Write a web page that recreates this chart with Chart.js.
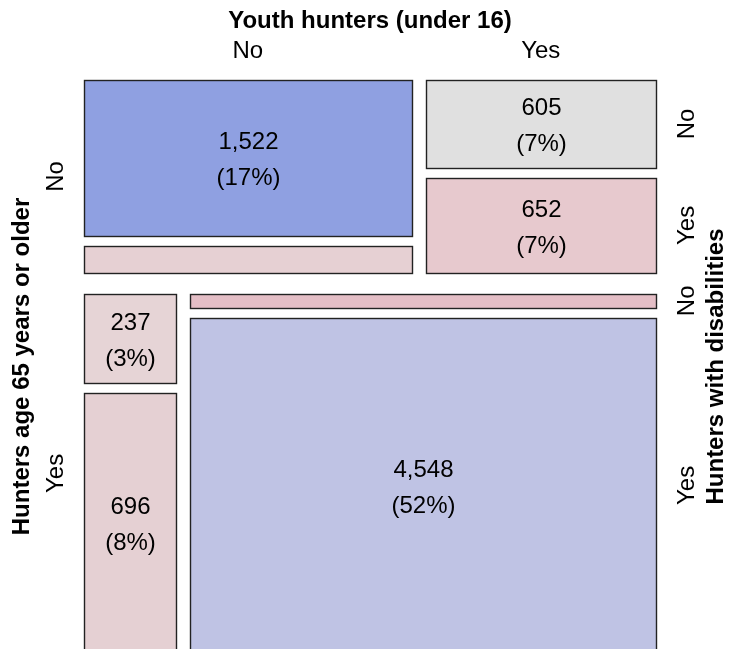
<!DOCTYPE html>
<html>
<head>
<meta charset="utf-8">
<script src="https://cdn.jsdelivr.net/npm/chart.js@4"></script>
<style>
  body { margin: 0; background: #fff; }
  #wrap { width: 729px; height: 649px; position: relative; }
</style>
</head>
<body>
<div id="wrap"><canvas id="mosaic"></canvas></div>
<script>
// levels of the three variables
const youthLevels = ['No', 'Yes'];
const ageLevels = ['No', 'Yes'];
const disLevels = ['No', 'Yes'];

// counts per youth column, [disabilities No, disabilities Yes]
const ageNoCounts = [[1522, 265], [605, 652]];
const ageYesCounts = [[237, 696], [190, 4548]];

// shading per cell (same order as counts)
const ageNoColors = [['#8fa0e1', '#e6d0d3'], ['#e0e0e0', '#e7c9ce']];
const ageYesColors = [['#e6d4d6', '#e5d0d3'], ['#e4bec6', '#bfc3e4']];

const counts = [ageNoCounts, ageYesCounts];
const colors = [ageNoColors, ageYesColors];
const total = counts.flat(2).reduce((a, b) => a + b, 0);

// gaps between tiles, as a share of the mosaic
const gapYouth = 14 / 572;
const gapAge = 21 / 573;
const gapDis = 10 / 573;

function buildTiles() {
    let tiles = [];
    let rowTotals = counts.map(r => r.flat().reduce((a, b) => a + b, 0));
    let y = 0;
    for (let a = 0; a < counts.length; a++) {
        let rowH = rowTotals[a] / total * (1 - gapAge);
        let x = 0;
        for (let yo = 0; yo < counts[a].length; yo++) {
            let colTotal = counts[a][yo][0] + counts[a][yo][1];
            let colW = colTotal / rowTotals[a] * (1 - gapYouth);
            let yy = y;
            for (let d = 0; d < counts[a][yo].length; d++) {
                let h = counts[a][yo][d] / colTotal * (rowH - gapDis);
                tiles.push({ age: a, youth: yo, dis: d, n: counts[a][yo][d], color: colors[a][yo][d],
                    x0: x, x1: x + colW, y0: yy, y1: yy + h });
                yy += h + gapDis;
            }
            x += colW + gapYouth;
        }
        y += rowH + gapAge;
    }
    return tiles;
}
const tiles = buildTiles();

const FONT = '"Liberation Sans", Arial, sans-serif';

function rotText(ctx, txt, x, y) {
    ctx.save();
    ctx.translate(x, y);
    ctx.rotate(-Math.PI / 2);
    ctx.fillText(txt, 0, 0);
    ctx.restore();
}

const mosaicPlugin = {
    id: 'mosaic',
    afterDatasetsDraw(chart) {
        const ctx = chart.ctx;
        const xs = chart.scales.x, ys = chart.scales.y;
        ctx.save();
        tiles.forEach(t => {
            let px0 = Math.round(xs.getPixelForValue(t.x0)) + 0.5;
            let px1 = Math.round(xs.getPixelForValue(t.x1)) + 0.5;
            let py0 = Math.round(ys.getPixelForValue(t.y0)) + 0.5;
            let py1 = Math.round(ys.getPixelForValue(t.y1)) + 0.5;
            ctx.fillStyle = t.color;
            ctx.fillRect(px0, py0, px1 - px0, py1 - py0);
            ctx.strokeStyle = '#222';
            ctx.lineWidth = 1.4;
            ctx.strokeRect(px0, py0, px1 - px0, py1 - py0);
            if (py1 - py0 > 60) {
                let cx = (px0 + px1) / 2, cy = (py0 + py1) / 2;
                ctx.fillStyle = '#000';
                ctx.font = '24px ' + FONT;
                ctx.textAlign = 'center';
                ctx.textBaseline = 'middle';
                ctx.fillText(t.n.toLocaleString('en-US'), cx, cy - 16);
                ctx.fillText('(' + Math.round(t.n / total * 100) + '%)', cx, cy + 20);
            }
        });

        // axis labels
        ctx.fillStyle = '#000';
        ctx.textAlign = 'center';
        ctx.textBaseline = 'middle';
        let topTiles = tiles.filter(t => t.age === 0 && t.dis === 0);
        let top0 = ys.getPixelForValue(0);
        let bottom = ys.getPixelForValue(1);
        ctx.font = 'bold 24px ' + FONT;
        ctx.fillText('Youth hunters (under 16)', (xs.left + xs.right) / 2, 21);
        rotText(ctx, 'Hunters age 65 years or older', 22, (top0 + bottom) / 2);
        rotText(ctx, 'Hunters with disabilities', 716, (top0 + bottom) / 2);

        ctx.font = '24px ' + FONT;
        topTiles.forEach(t => {
            ctx.fillText(youthLevels[t.youth], (xs.getPixelForValue(t.x0) + xs.getPixelForValue(t.x1)) / 2, 51);
        });
        ageLevels.forEach((lab, a) => {
            let row = tiles.filter(t => t.age === a && t.youth === 0);
            let y0 = ys.getPixelForValue(row[0].y0), y1 = ys.getPixelForValue(row[row.length - 1].y1);
            rotText(ctx, lab, 56, (y0 + y1) / 2);
        });
        tiles.filter(t => t.youth === 1).forEach(t => {
            let cy = (ys.getPixelForValue(t.y0) + ys.getPixelForValue(t.y1)) / 2;
            rotText(ctx, disLevels[t.dis], 687, cy);
        });
        ctx.restore();
    }
};

new Chart(document.getElementById('mosaic'), {
    type: 'scatter',
    data: { datasets: [{ data: [] }] },
    options: {
        responsive: true,
        maintainAspectRatio: false,
        animation: false,
        layout: { padding: { left: 84, right: 73, top: 80, bottom: 0 } },
        scales: {
            x: { type: 'linear', min: 0, max: 1, display: false },
            y: { type: 'linear', min: 0, max: 569 / 573, reverse: true, display: false }
        },
        plugins: { legend: { display: false }, tooltip: { enabled: false } }
    },
    plugins: [mosaicPlugin]
});
</script>
</body>
</html>
